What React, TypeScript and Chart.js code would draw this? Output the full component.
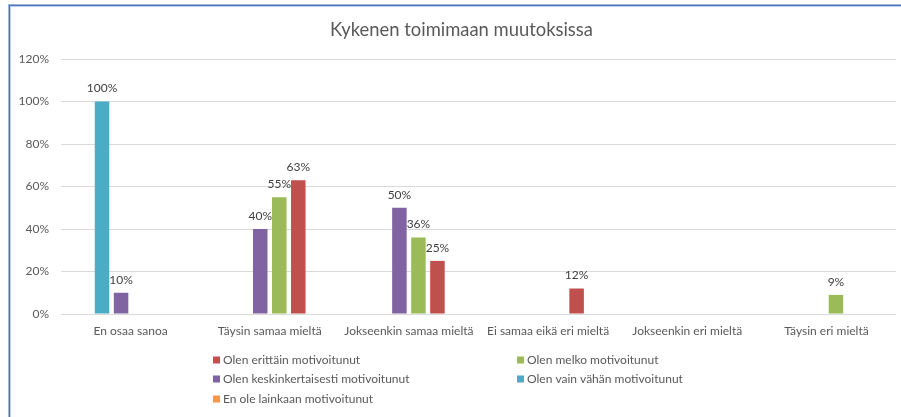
import React, { useEffect, useRef } from "react";
import { Chart, registerables } from "chart.js";

Chart.register(...registerables);

const chartTitle = "Kykenen toimimaan muutoksissa";
const categories = [
  "En osaa sanoa",
  "Täysin samaa mieltä",
  "Jokseenkin samaa mieltä",
  "Ei samaa eikä eri mieltä",
  "Jokseenkin eri mieltä",
  "Täysin eri mieltä",
];
// series in drawing order (left to right within a group)
const seriesNames = [
  "En ole lainkaan motivoitunut",
  "Olen vain vähän motivoitunut",
  "Olen keskinkertaisesti motivoitunut",
  "Olen melko motivoitunut",
  "Olen erittäin motivoitunut",
  "",
];
const enOleLainkaan: (number | null)[] = [null, null, null, null, null, null];
const vainVahan: (number | null)[] = [100, null, null, null, null, null];
const keskinkertaisesti: (number | null)[] = [10, 40, 50, null, null, null];
const melko: (number | null)[] = [null, 55, 36, null, null, 9];
const erittain: (number | null)[] = [null, 63, 25, 12, null, null];
const tyhja: (number | null)[] = [null, null, null, null, null, null];
const seriesColors = ["#f79646", "#4bacc6", "#8064a2", "#9bbb59", "#c0504d", "#ffffff"];
const yTicks = [0, 20, 40, 60, 80, 100, 120];
// legend order (indices into seriesNames)
const legendOrder = [4, 3, 2, 1, 0];

const FONT = "Lato, 'Open Sans', sans-serif";

const titlePlugin = {
  id: "customTitle",
  afterDraw(chart: any) {
    const ctx = chart.ctx;
    ctx.save();
    ctx.font = `18.4px ${FONT}`;
    ctx.fillStyle = "#595959";
    ctx.textAlign = "center";
    ctx.textBaseline = "alphabetic";
    ctx.fillText(chartTitle, 461.5, 36);
    ctx.restore();
  },
};

const dataLabelPlugin = {
  id: "dataLabels",
  afterDatasetsDraw(chart: any) {
    const ctx = chart.ctx;
    ctx.save();
    ctx.font = `12px ${FONT}`;
    ctx.fillStyle = "#404040";
    ctx.textAlign = "center";
    ctx.textBaseline = "middle";
    chart.data.datasets.forEach((ds: any, di: number) => {
      const meta = chart.getDatasetMeta(di);
      meta.data.forEach((el: any, i: number) => {
        const v = ds.data[i];
        if (v === null || v === undefined) return;
        ctx.fillText(`${v}%`, el.x, el.y - 13);
      });
    });
    ctx.restore();
  },
};

const legendPlugin = {
  id: "customLegend",
  afterDraw(chart: any) {
    const ctx = chart.ctx;
    const colX = [213, 517];
    const rowY = [360, 379, 399];
    ctx.save();
    ctx.font = `12px ${FONT}`;
    ctx.textBaseline = "middle";
    ctx.textAlign = "left";
    legendOrder.forEach((si, k) => {
      const x = colX[k % 2];
      const y = rowY[Math.floor(k / 2)];
      ctx.fillStyle = seriesColors[si];
      ctx.fillRect(x, y - 3.5, 7, 7);
      ctx.fillStyle = "#595959";
      ctx.fillText(seriesNames[si], x + 10, y);
    });
    ctx.restore();
  },
};

export default function App() {
  const ref = useRef<HTMLCanvasElement | null>(null);
  useEffect(() => {
    if (!ref.current) return;
    const seriesData = [enOleLainkaan, vainVahan, keskinkertaisesti, melko, erittain, tyhja];
    const chart = new Chart(ref.current, {
      type: "bar",
      data: {
        labels: categories,
        datasets: seriesData.map((d, i) => ({
          label: seriesNames[i],
          data: d,
          backgroundColor: seriesColors[i],
          categoryPercentage: 0.82,
          barPercentage: 0.763,
        })),
      },
      plugins: [titlePlugin, dataLabelPlugin, legendPlugin],
      options: {
        responsive: false,
        animation: false,
        layout: { padding: { left: 0, right: 5, top: 59, bottom: 73 } },
        plugins: { legend: { display: false }, title: { display: false }, tooltip: { enabled: false } },
        scales: {
          x: {
            grid: { display: false, drawTicks: false },
            border: { display: false },
            ticks: { font: { family: FONT, size: 12 }, color: "#595959", padding: 10, maxRotation: 0, autoSkip: false },
            afterFit(scale: any) {
              scale.height = 30;
            },
          },
          y: {
            min: 0,
            max: 120,
            afterBuildTicks(scale: any) {
              scale.ticks = yTicks.map((v) => ({ value: v }));
            },
            grid: { color: "#d9d9d9", drawTicks: false, lineWidth: 1 },
            border: { display: false },
            ticks: {
              font: { family: FONT, size: 12 },
              color: "#595959",
              padding: 12,
              callback: (v: any) => `${v}%`,
            },
            afterFit(scale: any) {
              scale.width = 61;
            },
          },
        },
      },
    } as any);
    return () => chart.destroy();
  }, []);

  return (
    <div style={{ position: "fixed", left: 0, top: 0, width: 901, height: 417, overflow: "hidden", background: "#fff" }}>
      <div
        style={{
          position: "absolute",
          left: 8,
          top: 4,
          width: 1000,
          height: 600,
          borderLeft: "1px solid #a3b5d6",
          borderTop: "1px solid #a3b5d6",
        }}
      >
        <div style={{ width: "100%", height: "100%", borderLeft: "1px solid #4a74b8", borderTop: "1px solid #4a74b8" }}>
          <div style={{ width: "100%", height: "100%", borderLeft: "1px solid #c3d1ea", borderTop: "1px solid #c3d1ea" }} />
        </div>
      </div>
      <canvas ref={ref} width={901} height={417} style={{ position: "absolute", left: 0, top: 0 }} />
    </div>
  );
}
